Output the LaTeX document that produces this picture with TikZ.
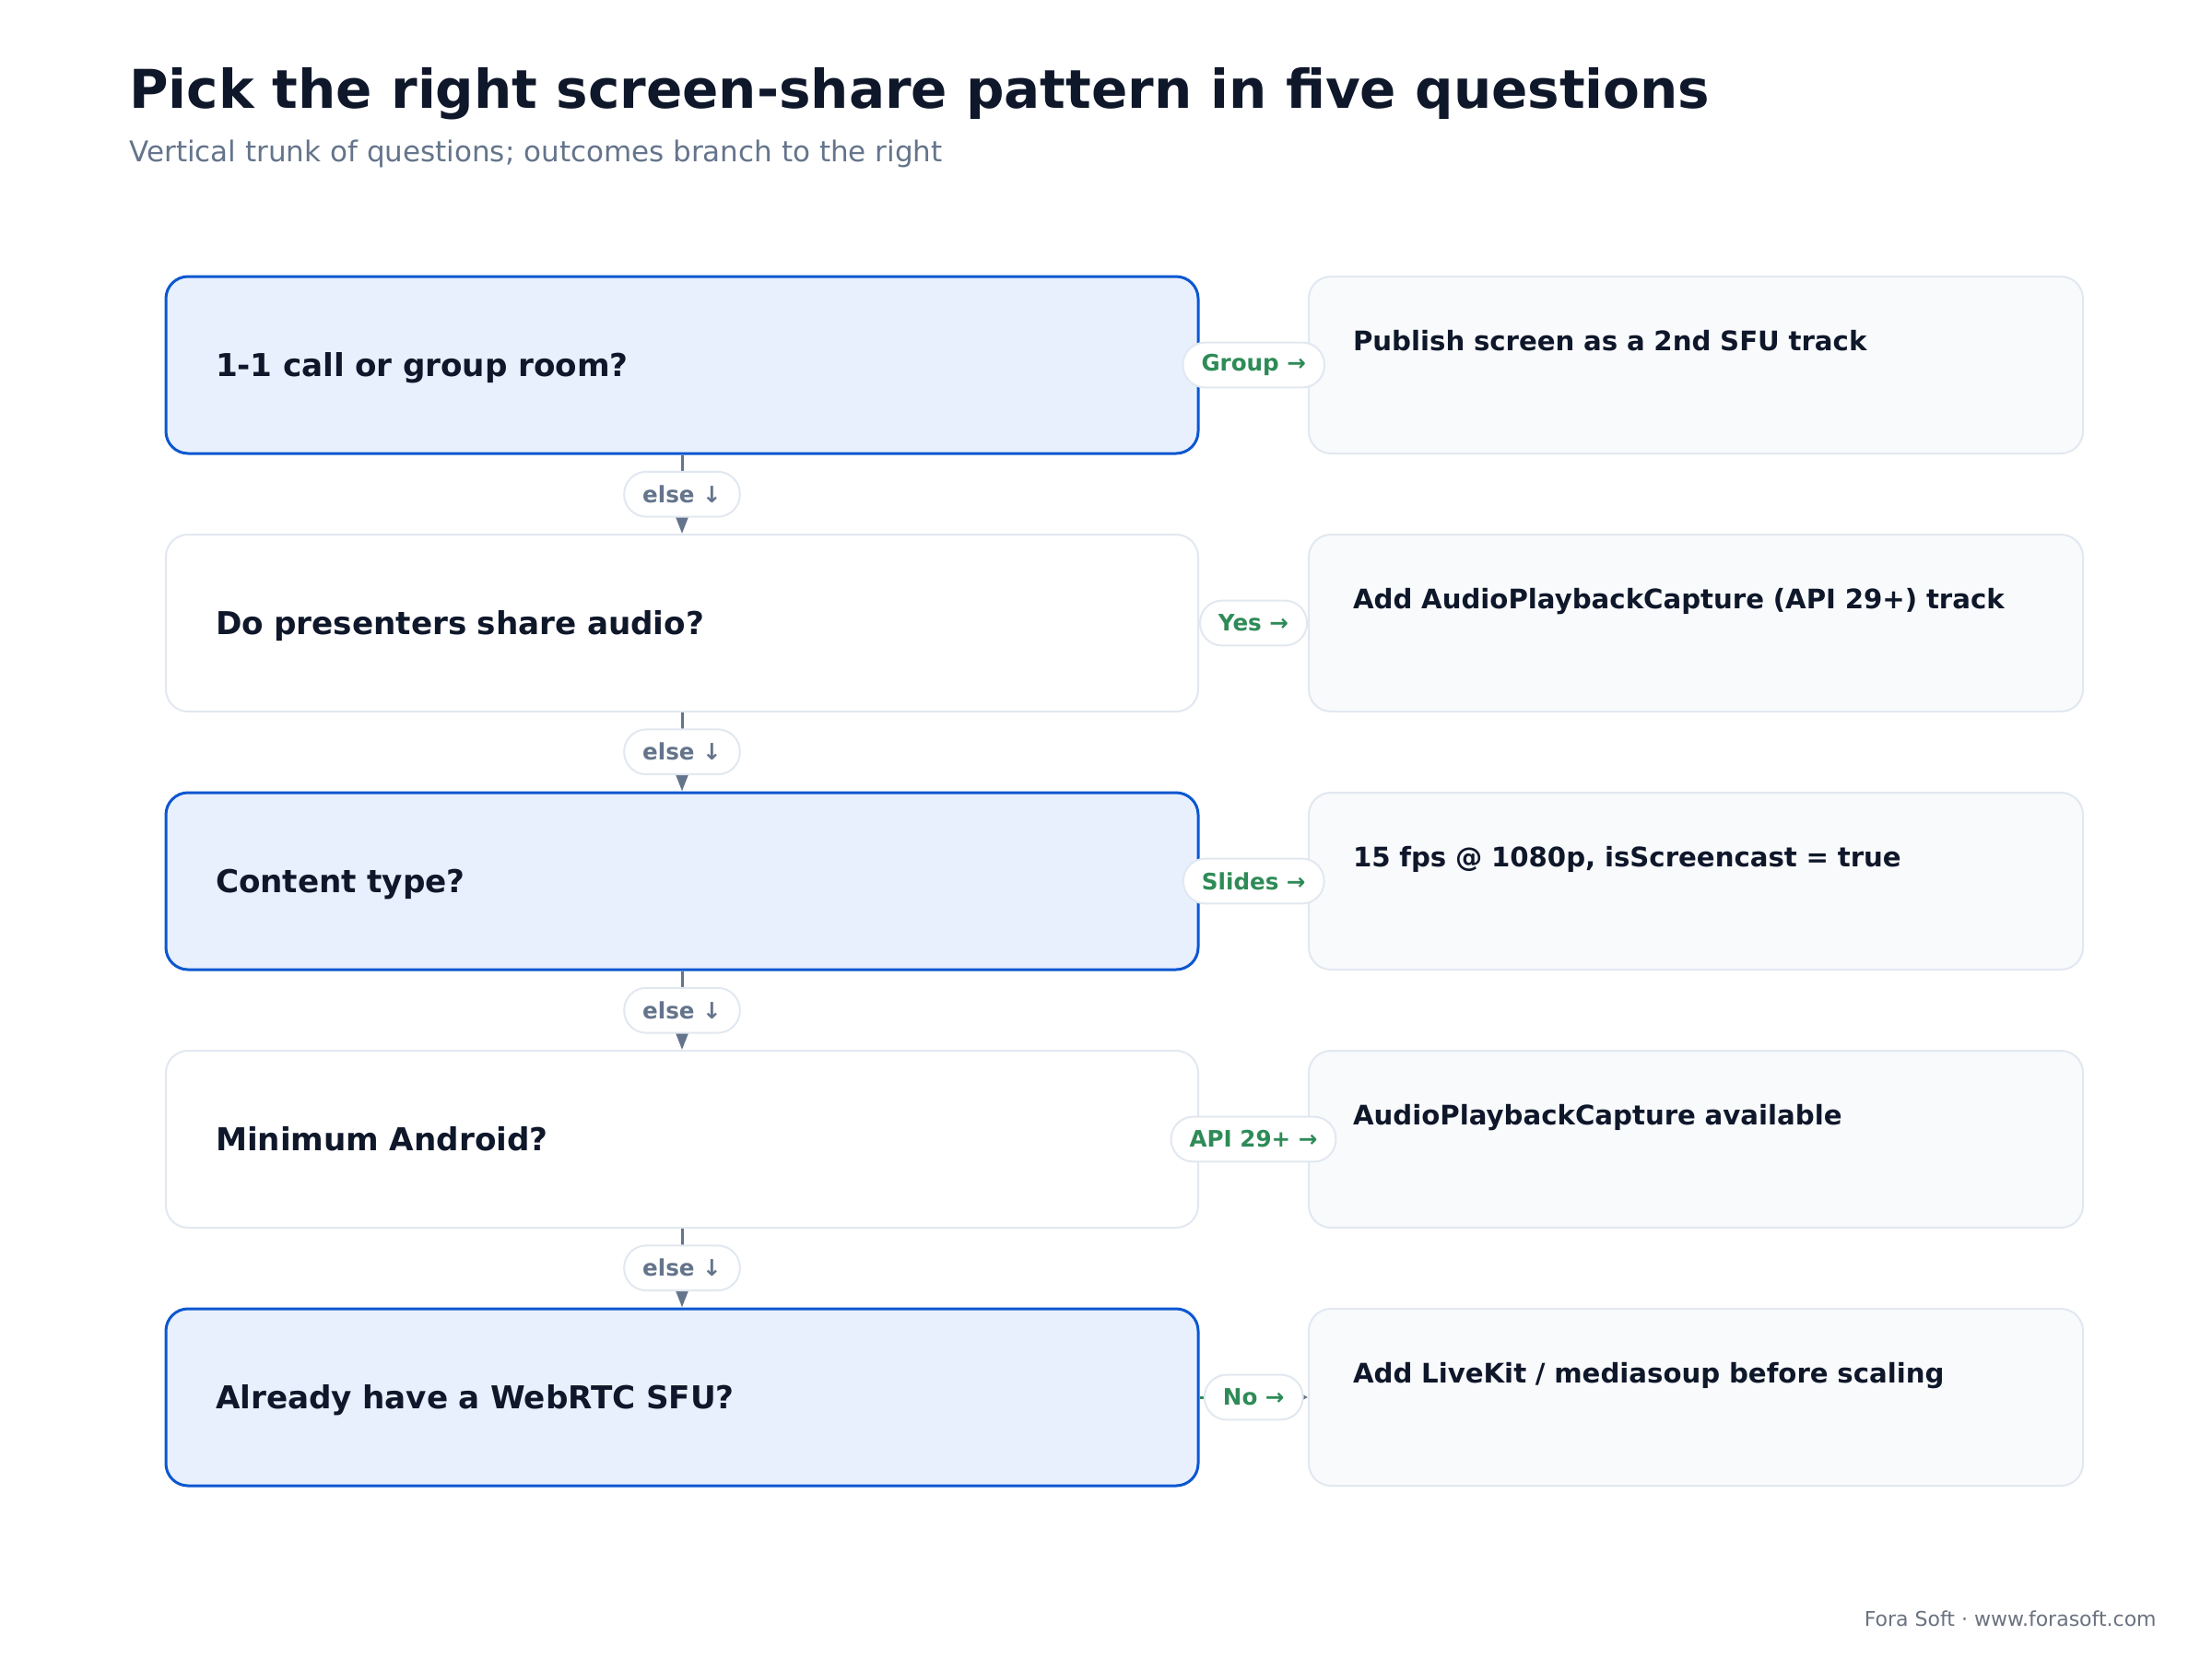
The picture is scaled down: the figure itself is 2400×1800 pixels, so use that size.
\documentclass[tikz,border=0pt]{standalone}
\usepackage{fontspec}
\setmainfont{DejaVu Sans}
\usetikzlibrary{arrows.meta}

\definecolor{ink}{HTML}{0F172A}
\definecolor{slate}{HTML}{64748B}
\definecolor{qfill}{HTML}{E8EFFD}
\definecolor{qline}{HTML}{0B57D0}
\definecolor{edge}{HTML}{E2E8F0}
\definecolor{card}{HTML}{F8FAFC}
\definecolor{leaf}{HTML}{2E8B57}
\definecolor{foot}{HTML}{6B7280}

\begin{document}
\begin{tikzpicture}[x=0.5pt, y=-0.5pt,
  question/.style={rounded corners=12pt, minimum width=560pt, minimum height=96pt,
    text width=506pt, inner xsep=27pt, inner ysep=0pt, align=left,
    text height=12.4pt, text depth=0pt, text=ink,
    font=\fontsize{17.1pt}{20pt}\selectfont\bfseries},
  hot/.style={question, fill=qfill, draw=qline, line width=1.5pt},
  cold/.style={question, fill=white, draw=edge, line width=1pt},
  outcome/.style={draw=edge, line width=1pt, fill=card, rounded corners=12pt,
    minimum width=420pt, minimum height=96pt, text width=372pt, inner xsep=24pt,
    inner ysep=0pt, align=left, text height=40.4pt, text depth=55.6pt, text=ink,
    font=\fontsize{14.6pt}{18pt}\selectfont\bfseries},
  pill/.style={draw=edge, line width=1pt, fill=white, rounded corners=12pt,
    minimum height=24.4pt, inner xsep=10pt, inner ysep=0pt,
    font=\fontsize{12.3pt}{14pt}\selectfont\bfseries},
  trunk/.style={draw=slate, line width=1.5pt, -{Triangle[length=9pt, width=6.5pt]}},
  branch/.style={draw=leaf, line width=1.5pt, -{Triangle[length=5pt, width=5pt, color=slate]}}]

  % --- PLOCHA ---
  \fill[white] (0,0) rectangle (2400,1800);
  \useasboundingbox (0,0) rectangle (2400,1800);

  % --- NADPIS ---
  \node[anchor=base west, inner sep=0pt, text=ink, font=\fontsize{29pt}{34pt}\selectfont\bfseries]
    (title) at (140,117) {Pick the right screen-share pattern in five questions};
  \node[anchor=base west, inner sep=0pt, text=slate, font=\fontsize{15.5pt}{18pt}\selectfont]
    (subtitle) at (140,175) {Vertical trunk of questions; outcomes branch to the right};

  % --- OTÁZKY (kmen) ---
  \node[hot]  (q1) at (740,396)  {1-1 call or group room?};
  \node[cold] (q2) at (740,676)  {Do presenters share audio?};
  \node[hot]  (q3) at (740,956)  {Content type?};
  \node[cold] (q4) at (740,1236) {Minimum Android?};
  \node[hot]  (q5) at (740,1516) {Already have a WebRTC SFU?};

  % --- VÝSLEDKY (větve vpravo) ---
  \node[outcome] (o1) at (1840,396)  {Publish screen as a 2nd SFU track};
  \node[outcome] (o2) at (1840,676)  {Add AudioPlaybackCapture (API 29+) track};
  \node[outcome] (o3) at (1840,956)  {15 fps @ 1080p, isScreencast = true};
  \node[outcome] (o4) at (1840,1236) {AudioPlaybackCapture available};
  \node[outcome] (o5) at (1840,1516) {Add LiveKit / mediasoup before scaling};

  % --- SPOJNICE dolů (else) ---
  \draw[trunk] (q1) -- node[pill, text=slate] (e1) {else ↓} (q2);
  \draw[trunk] (q2) -- node[pill, text=slate] (e2) {else ↓} (q3);
  \draw[trunk] (q3) -- node[pill, text=slate] (e3) {else ↓} (q4);
  \draw[trunk] (q4) -- node[pill, text=slate] (e4) {else ↓} (q5);

  % --- SPOJNICE doprava ---
  \draw[branch] (q1) -- node[pill, text=leaf] (b1) {Group →} (o1);
  \draw[branch] (q2) -- node[pill, text=leaf] (b2) {Yes →} (o2);
  \draw[branch] (q3) -- node[pill, text=leaf] (b3) {Slides →} (o3);
  \draw[branch] (q4) -- node[pill, text=leaf] (b4) {API 29+ →} (o4);
  \draw[branch] (q5) -- node[pill, text=leaf] (b5) {No →} (o5);

  % --- PATIČKA ---
  \node[anchor=base east, inner sep=0pt, text=foot, font=\fontsize{11pt}{13pt}\selectfont]
    (footer) at (2340,1764) {Fora Soft · www.forasoft.com};
\end{tikzpicture}
\end{document}
